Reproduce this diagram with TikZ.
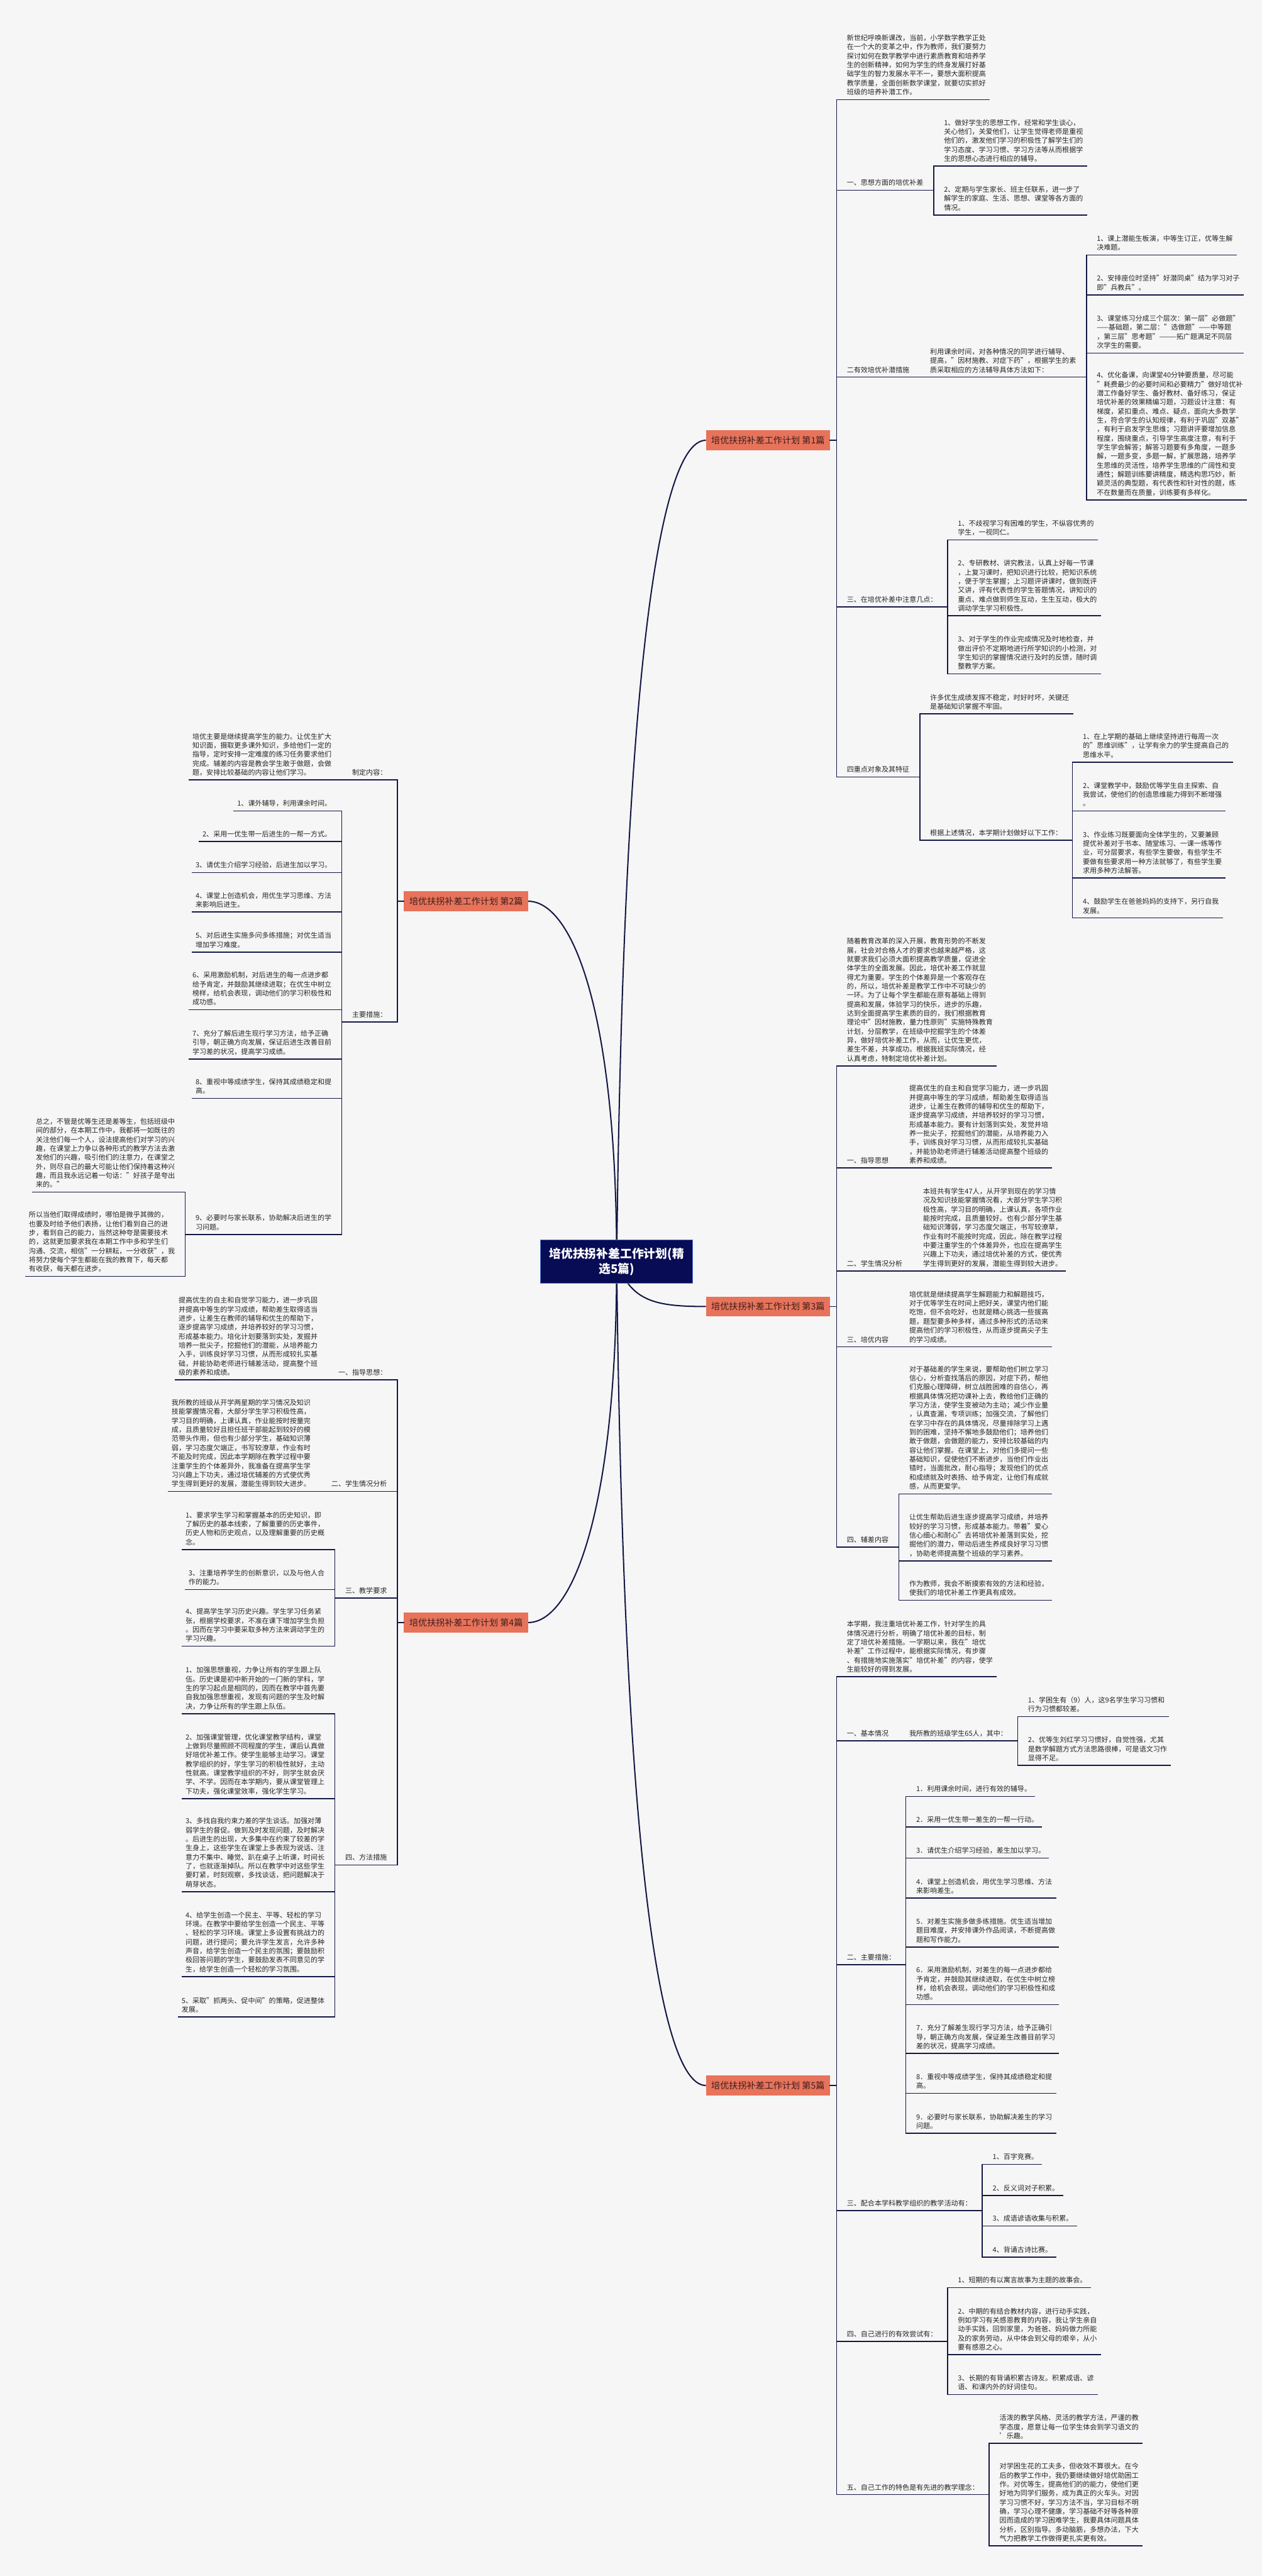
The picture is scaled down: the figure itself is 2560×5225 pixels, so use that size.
\documentclass[tikz,border=0pt]{standalone}
\usepackage{fontspec}
\setmainfont{Noto Sans CJK SC}
\definecolor{bgcol}{RGB}{246,246,247}
\definecolor{lc}{RGB}{20,24,68}
\definecolor{rootfill}{RGB}{8,12,84}
\definecolor{rootline}{RGB}{80,120,210}
\definecolor{boxcol}{RGB}{231,115,90}
\definecolor{boxtxt}{RGB}{60,30,30}
\definecolor{txtcol}{RGB}{38,38,38}
\usetikzlibrary{backgrounds}
\newcommand\txtfont{\fontsize{14.1}{18.3}\selectfont}
% text blocks: right leaf, parent, left leaf
\newcommand\rtx[1]{\begin{tabular}{@{\hspace{21pt}}l@{\hspace{7pt}}}#1\end{tabular}}
\newcommand\ptx[1]{\begin{tabular}{@{\hspace{21pt}}l@{\hspace{21pt}}}#1\end{tabular}}
\newcommand\ltx[1]{\begin{tabular}{@{\hspace{7pt}}l@{\hspace{21pt}}}#1\end{tabular}}

\begin{document}
\begin{tikzpicture}[x=1pt, y=-1pt,
  conn/.style={draw=lc, line width=2pt, line cap=rect},
  uline/.style={draw=lc, line width=2pt, line cap=rect},
  curve/.style={draw=lc, line width=2.6pt},
  tnode/.style={inner xsep=0pt, inner ysep=4.3pt, outer sep=0pt, text=txtcol, font=\txtfont,
    append after command={(\tikzlastnode.south west) edge[uline] (\tikzlastnode.south east)}},
  rnode/.style={tnode, anchor=south west},
  lnode/.style={tnode, anchor=south east},
  bbox/.style={fill=boxcol, text=boxtxt, font=\fontsize{18}{20}\selectfont, minimum width=252pt, minimum height=40pt, inner sep=0pt, outer sep=0pt},
  root/.style={fill=rootfill, draw=rootline, line width=1.5pt, text=white, font=\fontsize{24}{31}\selectfont\bfseries, align=center, minimum width=309pt, minimum height=88pt}]
  \useasboundingbox (0,0) rectangle (2560,5225);
  % Root and chapters
  \node[root] (root) at (1251,2559) {培优扶拐补差工作计划(精\\选5篇)};
  \node[bbox] (b1) at (1558,893) {培优扶拐补差工作计划 第1篇};
  \node[bbox] (b2) at (945.5,1828) {培优扶拐补差工作计划 第2篇};
  \node[bbox] (b3) at (1558,2650) {培优扶拐补差工作计划 第3篇};
  \node[bbox] (b4) at (945.5,3291) {培优扶拐补差工作计划 第4篇};
  \node[bbox] (b5) at (1558,4230) {培优扶拐补差工作计划 第5篇};

  % Chapter 1
  \node[rnode] (n1i) at (1697,202) {\rtx{新世纪呼唤新课改，当前，小学数学教学正处\\在一个大的变革之中，作为教师，我们要努力\\探讨如何在数学教学中进行素质教育和培养学\\生的创新精神，如何为学生的终身发展打好基\\础学生的智力发展水平不一，要想大面积提高\\教学质量，全面创新数学课堂，就要切实抓好\\班级的培养补潜工作。}};
  \node[rnode] (n1a) at (1697,386) {\ptx{一、思想方面的培优补差}};
  \node[rnode] (n1a1) at (n1a.south east |- 0,337) {\rtx{1、做好学生的思想工作，经常和学生谈心，\\关心他们，关爱他们，让学生觉得老师是重视\\他们的，激发他们学习的积极性了解学生们的\\学习态度、学习习惯、学习方法等从而根据学\\生的思想心态进行相应的辅导。}};
  \node[rnode] (n1a2) at (n1a.south east |- 0,436) {\rtx{2、定期与学生家长、班主任联系，进一步了\\解学生的家庭、生活、思想、课堂等各方面的\\情况。}};
  \node[rnode] (n1b) at (1697,765) {\ptx{二有效培优补潜措施}};
  \node[rnode] (n1b1) at (n1b.south east) {\ptx{利用课余时间，对各种情况的同学进行辅导、\\提高，"因材施教、对症下药"，根据学生的素\\质采取相应的方法辅导具体方法如下：}};
  \node[rnode] (n1b11) at (n1b1.south east |- 0,517) {\rtx{1、课上潜能生板演，中等生订正，优等生解\\决难题。}};
  \node[rnode] (n1b12) at (n1b1.south east |- 0,598) {\rtx{2、安排座位时坚持"好潜同桌"结为学习对子\\即"兵教兵"。}};
  \node[rnode] (n1b13) at (n1b1.south east |- 0,716) {\rtx{3、课堂练习分成三个层次：第一层"必做题"\\——基础题，第二层："选做题"——中等题\\，第三层"思考题"———拓广题满足不同层\\次学生的需要。}};
  \node[rnode] (n1b14) at (n1b1.south east |- 0,1014) {\rtx{4、优化备课，向课堂40分钟要质量，尽可能\\"耗费最少的必要时间和必要精力"做好培优补\\潜工作备好学生、备好教材、备好练习，保证\\培优补差的效果精编习题，习题设计注意：有\\梯度，紧扣重点、难点、疑点，面向大多数学\\生，符合学生的认知规律，有利于巩固"双基"\\，有利于启发学生思维；习题讲评要增加信息\\程度，围绕重点，引导学生高度注意，有利于\\学生学会解答；解答习题要有多角度，一题多\\解，一题多变，多题一解，扩展思路，培养学\\生思维的灵活性，培养学生思维的广阔性和变\\通性；解题训练要讲精度，精选构思巧妙，新\\颖灵活的典型题，有代表性和针对性的题，练\\不在数量而在质量，训练要有多样化。}};
  \node[rnode] (n1c) at (1697,1231) {\ptx{三、在培优补差中注意几点：}};
  \node[rnode] (n1c1) at (n1c.south east |- 0,1095) {\rtx{1、不歧视学习有困难的学生，不纵容优秀的\\学生，一视同仁。}};
  \node[rnode] (n1c2) at (n1c.south east |- 0,1249) {\rtx{2、专研教材、讲究教法，认真上好每一节课\\，上复习课时，把知识进行比较，把知识系统\\，便于学生掌握；上习题评讲课时，做到既评\\又讲，评有代表性的学生答题情况，讲知识的\\重点、难点做到师生互动，生生互动，极大的\\调动学生学习积极性。}};
  \node[rnode] (n1c3) at (n1c.south east |- 0,1367) {\rtx{3、对于学生的作业完成情况及时地检查，并\\做出评价不定期地进行所学知识的小检测，对\\学生知识的掌握情况进行及时的反馈，随时调\\整教学方案。}};
  \node[rnode] (n1d) at (1697,1576) {\ptx{四重点对象及其特征}};
  \node[rnode] (n1d1) at (n1d.south east |- 0,1448) {\rtx{许多优生成绩发挥不稳定，时好时坏，关键还\\是基础知识掌握不牢固。}};
  \node[rnode] (n1d2) at (n1d.south east |- 0,1704) {\ptx{根据上述情况，本学期计划做好以下工作：}};
  \node[rnode] (n1d21) at (n1d2.south east |- 0,1546) {\rtx{1、在上学期的基础上继续坚持进行每周一次\\的"思维训练"，让学有余力的学生提高自己的\\思维水平。}};
  \node[rnode] (n1d22) at (n1d2.south east |- 0,1645) {\rtx{2、课堂教学中，鼓励优等学生自主探索、自\\我尝试，使他们的创造思维能力得到不断增强\\。}};
  \node[rnode] (n1d23) at (n1d2.south east |- 0,1781) {\rtx{3、作业练习既要面向全体学生的，又要兼顾\\提优补差对于书本、随堂练习、一课一练等作\\业，可分层要求，有些学生要做，有些学生不\\要做有些要求用一种方法就够了，有些学生要\\求用多种方法解答。}};
  \node[rnode] (n1d24) at (n1d2.south east |- 0,1862) {\rtx{4、鼓励学生在爸爸妈妈的支持下，另行自我\\发展。}};

  % Chapter 2
  \node[lnode] (n2a) at (806,1582) {\ptx{制定内容：}};
  \node[lnode] (n2a1) at (n2a.south west) {\ltx{培优主要是继续提高学生的能力。让优生扩大\\知识面，摄取更多课外知识，多给他们一定的\\指导，定时安排一定难度的练习任务要求他们\\完成。辅差的内容是教会学生敢于做题，会做\\题，安排比较基础的内容让他们学习。}};
  \node[lnode] (n2b) at (806,2073) {\ptx{主要措施：}};
  \node[lnode] (n2b1) at (n2b.south west |- 0,1645) {\ltx{1、课外辅导，利用课余时间。}};
  \node[lnode] (n2b2) at (n2b.south west |- 0,1707) {\ltx{2、采用一优生带一后进生的一帮一方式。}};
  \node[lnode] (n2b3) at (n2b.south west |- 0,1770) {\ltx{3、请优生介绍学习经验，后进生加以学习。}};
  \node[lnode] (n2b4) at (n2b.south west |- 0,1850) {\ltx{4、课堂上创造机会，用优生学习思维、方法\\来影响后进生。}};
  \node[lnode] (n2b5) at (n2b.south west |- 0,1931) {\ltx{5、对后进生实施多问多练措施；对优生适当\\增加学习难度。}};
  \node[lnode] (n2b6) at (n2b.south west |- 0,2048) {\ltx{6、采用激励机制，对后进生的每一点进步都\\给予肯定，并鼓励其继续进取；在优生中树立\\榜样，给机会表现，调动他们的学习积极性和\\成功感。}};
  \node[lnode] (n2b7) at (n2b.south west |- 0,2148) {\ltx{7、充分了解后进生现行学习方法，给予正确\\引导，朝正确方向发展，保证后进生改善目前\\学习差的状况，提高学习成绩。}};
  \node[lnode] (n2b8) at (n2b.south west |- 0,2228) {\ltx{8、重视中等成绩学生，保持其成绩稳定和提\\高。}};
  \node[lnode] (n2b9) at (n2b.south west |- 0,2504) {\ptx{9、必要时与家长联系，协助解决后进生的学\\习问题。}};
  \node[lnode] (n2b91) at (n2b9.south west |- 0,2418) {\ltx{总之，不管是优等生还是差等生，包括班级中\\间的部分，在本期工作中，我都将一如既往的\\关注他们每一个人，设法提高他们对学习的兴\\趣，在课堂上力争以各种形式的教学方法去激\\发他们的兴趣，吸引他们的注意力，在课堂之\\外，则尽自己的最大可能让他们保持着这种兴\\趣，而且我永远记着一句话："好孩子是夸出\\来的。"}};
  \node[lnode] (n2b92) at (n2b9.south west |- 0,2589) {\ltx{所以当他们取得成绩时，哪怕是微乎其微的，\\也要及时给予他们表扬，让他们看到自己的进\\步，看到自己的能力，当然这种夸是需要技术\\的，这就更加要求我在本期工作中多和学生们\\沟通、交流，相信"一分耕耘，一分收获"，我\\将努力使每个学生都能在我的教育下，每天都\\有收获，每天都在进步。}};

  % Chapter 3
  \node[rnode] (n3i) at (1697,2162) {\rtx{随着教育改革的深入开展，教育形势的不断发\\展，社会对合格人才的要求也越来越严格，这\\就要求我们必须大面积提高教学质量，促进全\\体学生的全面发展。因此，培优补差工作就显\\得尤为重要。学生的个体差异是一个客观存在\\的，所以，培优补差是教学工作中不可缺少的\\一环。为了让每个学生都能在原有基础上得到\\提高和发展，体验学习的快乐，进步的乐趣，\\达到全面提高学生素质的目的，我们根据教育\\理论中"因材施教，量力性原则"实施特殊教育\\计划，分层教学，在班级中挖掘学生的个体差\\异，做好培优补差工作，从而，让优生更优，\\差生不差，共享成功。根据我班实际情况，经\\认真考虑，特制定培优补差计划。}};
  \node[rnode] (n3a) at (1697,2369) {\ptx{一、指导思想}};
  \node[rnode] (n3a1) at (n3a.south east) {\rtx{提高优生的自主和自觉学习能力，进一步巩固\\并提高中等生的学习成绩，帮助差生取得适当\\进步，让差生在教师的辅导和优生的帮助下，\\逐步提高学习成绩，并培养较好的学习习惯，\\形成基本能力。要有计划落到实处，发觉并培\\养一批尖子，挖掘他们的潜能，从培养能力入\\手，训练良好学习习惯，从而形成较扎实基础\\，并能协助老师进行辅差活动提高整个班级的\\素养和成绩。}};
  \node[rnode] (n3b) at (1697,2578) {\ptx{二、学生情况分析}};
  \node[rnode] (n3b1) at (n3b.south east) {\rtx{本班共有学生47人，从开学到现在的学习情\\况及知识技能掌握情况看，大部分学生学习积\\极性高，学习目的明确，上课认真，各项作业\\能按时完成，且质量较好。也有少部分学生基\\础知识薄弱，学习态度欠端正，书写较潦草，\\作业有时不能按时完成，因此，除在教学过程\\中要注重学生的个体差异外，也应在提高学生\\兴趣上下功夫，通过培优补差的方式，使优秀\\学生得到更好的发展，潜能生得到较大进步。}};
  \node[rnode] (n3c) at (1697,2732) {\ptx{三、培优内容}};
  \node[rnode] (n3c1) at (n3c.south east) {\rtx{培优就是继续提高学生解题能力和解题技巧，\\对于优等学生在时间上把好关，课堂内他们能\\吃饱，但不会吃好，也就是精心挑选一些拔高\\题，题型要多种多样，通过多种形式的活动来\\提高他们的学习积极性，从而逐步提高尖子生\\的学习成绩。}};
  \node[rnode] (n3d) at (1697,3138) {\ptx{四、辅差内容}};
  \node[rnode] (n3d1) at (n3d.south east |- 0,3030) {\rtx{对于基础差的学生来说，要帮助他们树立学习\\信心，分析查找落后的原因，对症下药，帮他\\们克服心理障碍，树立战胜困难的自信心，再\\根据具体情况把功课补上去，教给他们正确的\\学习方法，使学生变被动为主动；减少作业量\\，认真查漏，专项训练；加强交流，了解他们\\在学习中存在的具体情况，尽量排除学习上遇\\到的困难，坚持不懈地多鼓励他们；培养他们\\敢于做题，会做题的能力，安排比较基础的内\\容让他们掌握。在课堂上，对他们多提问一些\\基础知识，促使他们不断进步，当他们作业出\\错时，当面批改，耐心指导；发现他们的优点\\和成绩就及时表扬、给予肯定，让他们有成就\\感，从而更爱学。}};
  \node[rnode] (n3d2) at (n3d.south east |- 0,3166) {\rtx{让优生帮助后进生逐步提高学习成绩，并培养\\较好的学习习惯，形成基本能力。带着"爱心\\信心细心和耐心"去将培优补差落到实处，挖\\掘他们的潜力，带动后进生养成良好学习习惯\\，协助老师提高整个班级的学习素养。}};
  \node[rnode] (n3d3) at (n3d.south east |- 0,3246) {\rtx{作为教师，我会不断摸索有效的方法和经验，\\使我们的培优补差工作更具有成效。}};

  % Chapter 4
  \node[lnode] (n4a) at (806,2799) {\ptx{一、指导思想：}};
  \node[lnode] (n4a1) at (n4a.south west) {\ltx{提高优生的自主和自觉学习能力，进一步巩固\\并提高中等生的学习成绩，帮助差生取得适当\\进步，让差生在教师的辅导和优生的帮助下，\\逐步提高学习成绩，并培养较好的学习习惯，\\形成基本能力。培化计划要落到实处，发掘并\\培养一批尖子，挖掘他们的潜能，从培养能力\\入手，训练良好学习习惯，从而形成较扎实基\\础，并能协助老师进行辅差活动，提高整个班\\级的素养和成绩。}};
  \node[lnode] (n4b) at (806,3025) {\ptx{二、学生情况分析}};
  \node[lnode] (n4b1) at (n4b.south west) {\ltx{我所教的班级从开学两星期的学习情况及知识\\技能掌握情况看，大部分学生学习积极性高，\\学习目的明确，上课认真，作业能按时按量完\\成，且质量较好且担任班干部能起到较好的模\\范带头作用，但也有少部分学生，基础知识薄\\弱，学习态度欠端正，书写较潦草，作业有时\\不能及时完成，因此本学期除在教学过程中要\\注重学生的个体差异外，我准备在提高学生学\\习兴趣上下功夫，通过培优辅差的方式使优秀\\学生得到更好的发展，潜能生得到较大进步。}};
  \node[lnode] (n4c) at (806,3241) {\ptx{三、教学要求}};
  \node[lnode] (n4c1) at (n4c.south west |- 0,3143) {\ltx{1、要求学生学习和掌握基本的历史知识，即\\了解历史的基本线索，了解重要的历史事件，\\历史人物和历史观点，以及理解重要的历史概\\念。}};
  \node[lnode] (n4c2) at (n4c.south west |- 0,3224) {\ltx{3、注重培养学生的创新意识，以及与他人合\\作的能力。}};
  \node[lnode] (n4c3) at (n4c.south west |- 0,3339) {\ltx{4、提高学生学习历史兴趣。学生学习任务紧\\张，根据学校要求，不准在课下增加学生负担\\。因而在学习中要采取多种方法来调动学生的\\学习兴趣。}};
  \node[lnode] (n4d) at (806,3783) {\ptx{四、方法措施}};
  \node[lnode] (n4d1) at (n4d.south west |- 0,3476) {\ltx{1、加强思想重视，力争让所有的学生跟上队\\伍。历史课是初中新开始的一门新的学科，学\\生的学习起点是相同的，因而在教学中首先要\\自我加强思想重视，发现有问题的学生及时解\\决，力争让所有的学生跟上队伍。}};
  \node[lnode] (n4d2) at (n4d.south west |- 0,3648) {\ltx{2、加强课堂管理，优化课堂教学结构，课堂\\上做到尽量照顾不同程度的学生，课后认真做\\好培优补差工作。使学生能够主动学习。课堂\\教学组织的好，学生学习的积极性就好，主动\\性就高。课堂教学组织的不好，则学生就会厌\\学、不学。因而在本学期内，要从课堂管理上\\下功夫，强化课堂效率，强化学生学习。}};
  \node[lnode] (n4d3) at (n4d.south west |- 0,3837) {\ltx{3、多找自我约束力差的学生谈话。加强对薄\\弱学生的督促。做到及时发现问题，及时解决\\。后进生的出现，大多集中在约束了较差的学\\生身上，这些学生在课堂上多表现为说话、注\\意力不集中、睡觉、趴在桌子上听课，时间长\\了，也就逐渐掉队。所以在教学中对这些学生\\要盯紧，时刻观察，多找谈话，把问题解决于\\萌芽状态。}};
  \node[lnode] (n4d4) at (n4d.south west |- 0,4009) {\ltx{4、给学生创造一个民主、平等、轻松的学习\\环境。在教学中要给学生创造一个民主、平等\\、轻松的学习环境。课堂上多设置有挑战力的\\问题，进行提问；要允许学生发言，允许多种\\声音，给学生创造一个民主的氛围；要鼓励积\\极回答问题的学生，要鼓励发表不同意见的学\\生，给学生创造一个轻松的学习氛围。}};
  \node[lnode] (n4d5) at (n4d.south west |- 0,4091) {\ltx{5、采取"抓两头、促中间"的策略，促进整体\\发展。}};

  % Chapter 5
  \node[rnode] (n5i) at (1697,3401) {\rtx{本学期，我注重培优补差工作，针对学生的具\\体情况进行分析，明确了培优补差的目标，制\\定了培优补差措施。一学期以来，我在"培优\\补差"工作过程中，能根据实际情况，有步骤\\、有措施地实施落实"培优补差"的内容，使学\\生能较好的得到发展。}};
  \node[rnode] (n5a) at (1697,3531) {\ptx{一、基本情况}};
  \node[rnode] (n5a1) at (n5a.south east) {\ptx{我所教的班级学生65人，其中：}};
  \node[rnode] (n5a11) at (n5a1.south east |- 0,3482) {\rtx{1、学困生有（9）人，这9名学生学习习惯和\\行为习惯都较差。}};
  \node[rnode] (n5a12) at (n5a1.south east |- 0,3581) {\rtx{2、优等生刘红学习习惯好，自觉性强，尤其\\是数学解题方式方法思路很棒，可是语文习作\\显得不足。}};
  \node[rnode] (n5b) at (1697,3985) {\ptx{二、主要措施：}};
  \node[rnode] (n5b1) at (n5b.south east |- 0,3644) {\rtx{1．利用课余时间，进行有效的辅导。}};
  \node[rnode] (n5b2) at (n5b.south east |- 0,3706) {\rtx{2．采用一优生带一差生的一帮一行动。}};
  \node[rnode] (n5b3) at (n5b.south east |- 0,3769) {\rtx{3．请优生介绍学习经验，差生加以学习。}};
  \node[rnode] (n5b4) at (n5b.south east |- 0,3850) {\rtx{4．课堂上创造机会，用优生学习思维、方法\\来影响差生。}};
  \node[rnode] (n5b5) at (n5b.south east |- 0,3949) {\rtx{5．对差生实施多做多练措施。优生适当增加\\题目难度，并安排课外作品阅读，不断提高做\\题和写作能力。}};
  \node[rnode] (n5b6) at (n5b.south east |- 0,4066) {\rtx{6．采用激励机制，对差生的每一点进步都给\\予肯定，并鼓励其继续进取，在优生中树立榜\\样，给机会表现，调动他们的学习积极性和成\\功感。}};
  \node[rnode] (n5b7) at (n5b.south east |- 0,4165) {\rtx{7．充分了解差生现行学习方法，给予正确引\\导，朝正确方向发展，保证差生改善目前学习\\差的状况，提高学习成绩。}};
  \node[rnode] (n5b8) at (n5b.south east |- 0,4246) {\rtx{8．重视中等成绩学生，保持其成绩稳定和提\\高。}};
  \node[rnode] (n5b9) at (n5b.south east |- 0,4327) {\rtx{9．必要时与家长联系，协助解决差生的学习\\问题。}};
  \node[rnode] (n5c) at (1697,4484) {\ptx{三、配合本学科教学组织的教学活动有：}};
  \node[rnode] (n5c1) at (n5c.south east |- 0,4390) {\rtx{1、百字竞赛。}};
  \node[rnode] (n5c2) at (n5c.south east |- 0,4453) {\rtx{2、反义词对子积累。}};
  \node[rnode] (n5c3) at (n5c.south east |- 0,4515) {\rtx{3、成语谚语收集与积累。}};
  \node[rnode] (n5c4) at (n5c.south east |- 0,4578) {\rtx{4、背诵古诗比赛。}};
  \node[rnode] (n5d) at (1697,4749) {\ptx{四、自己进行的有效尝试有：}};
  \node[rnode] (n5d1) at (n5d.south east |- 0,4640) {\rtx{1、短期的有以寓言故事为主题的故事会。}};
  \node[rnode] (n5d2) at (n5d.south east |- 0,4776) {\rtx{2、中期的有结合教材内容，进行动手实践，\\例如学习有关感恩教育的内容，我让学生亲自\\动手实践，回到家里，为爸爸、妈妈做力所能\\及的家务劳动，从中体会到父母的艰辛，从小\\要有感恩之心。}};
  \node[rnode] (n5d3) at (n5d.south east |- 0,4857) {\rtx{3、长期的有背诵积累古诗友。积累成语、谚\\语、和课内外的好词佳句。}};
  \node[rnode] (n5e) at (1697,5060) {\ptx{五、自己工作的特色是有先进的教学理念：}};
  \node[rnode] (n5e1) at (n5e.south east |- 0,4956) {\rtx{活泼的教学风格、灵活的教学方法，严谨的教\\学态度，愿意让每一位学生体会到学习语文的\\'乐趣。}};
  \node[rnode] (n5e2) at (n5e.south east |- 0,5164) {\rtx{对学困生花的工夫多，但收效不算很大。在今\\后的教学工作中，我仍要继续做好培优助困工\\作。对优等生，提高他们的的能力，使他们更\\好地为同学们服务，成为真正的火车头。对因\\学习习惯不好，学习方法不当，学习目标不明\\确，学习心理不健康，学习基础不好等各种原\\因而造成的学习困难学生，我要具体问题具体\\分析，区别指导。多动脑筋，多想办法，下大\\气力把教学工作做得更扎实更有效。}};

  % Brackets
  \draw[conn] (b1.east) -| (n1i.south west) (b1.east) -| (n1a.south west) (b1.east) -| (n1b.south west) (b1.east) -| (n1c.south west) (b1.east) -| (n1d.south west);
  \draw[conn] (n1a.south east) |- (n1a1.south west) (n1a.south east) |- (n1a2.south west);
  \draw[conn] (n1b1.south east) |- (n1b11.south west) (n1b1.south east) |- (n1b12.south west) (n1b1.south east) |- (n1b13.south west) (n1b1.south east) |- (n1b14.south west);
  \draw[conn] (n1c.south east) |- (n1c1.south west) (n1c.south east) |- (n1c2.south west) (n1c.south east) |- (n1c3.south west);
  \draw[conn] (n1d.south east) |- (n1d1.south west) (n1d.south east) |- (n1d2.south west);
  \draw[conn] (n1d2.south east) |- (n1d21.south west) (n1d2.south east) |- (n1d22.south west) (n1d2.south east) |- (n1d23.south west) (n1d2.south east) |- (n1d24.south west);
  \draw[conn] (b2.west) -| (n2a.south east) (b2.west) -| (n2b.south east);
  \draw[conn] (n2b.south west) |- (n2b1.south east) (n2b.south west) |- (n2b9.south east);
  \draw[conn] (n2b9.south west) |- (n2b91.south east) (n2b9.south west) |- (n2b92.south east);
  \draw[conn] (b3.east) -| (n3i.south west) (b3.east) -| (n3d.south west);
  \draw[conn] (n3d.south east) |- (n3d1.south west) (n3d.south east) |- (n3d3.south west);
  \draw[conn] (b4.west) -| (n4a.south east) (b4.west) -| (n4d.south east);
  \draw[conn] (n4c.south west) |- (n4c1.south east) (n4c.south west) |- (n4c3.south east);
  \draw[conn] (n4d.south west) |- (n4d1.south east) (n4d.south west) |- (n4d5.south east);
  \draw[conn] (b5.east) -| (n5i.south west) (b5.east) -| (n5e.south west);
  \draw[conn] (n5a1.south east) |- (n5a11.south west) (n5a1.south east) |- (n5a12.south west);
  \draw[conn] (n5b.south east) |- (n5b1.south west) (n5b.south east) |- (n5b9.south west);
  \draw[conn] (n5c.south east) |- (n5c1.south west) (n5c.south east) |- (n5c4.south west);
  \draw[conn] (n5d.south east) |- (n5d1.south west) (n5d.south east) |- (n5d3.south west);
  \draw[conn] (n5e.south east) |- (n5e1.south west) (n5e.south east) |- (n5e2.south west);

  % Background and curves
  \begin{pgfonlayer}{background}
    \fill[bgcol] (0,0) rectangle (2560,5225);
    \draw[curve] (root.center) .. controls +(14,-1259) and +(-87,0) .. (b1.west);
    \draw[curve] (root.center) .. controls +(0,-509) and +(89,0) .. (b2.east);
    \draw[curve] (root.center) .. controls +(29,81) and +(-102,0) .. (b3.west);
    \draw[curve] (root.center) .. controls +(0,509) and +(89,0) .. (b4.east);
    \draw[curve] (root.center) .. controls +(14,1259) and +(-87,0) .. (b5.west);
  \end{pgfonlayer}
\end{tikzpicture}
\end{document}
